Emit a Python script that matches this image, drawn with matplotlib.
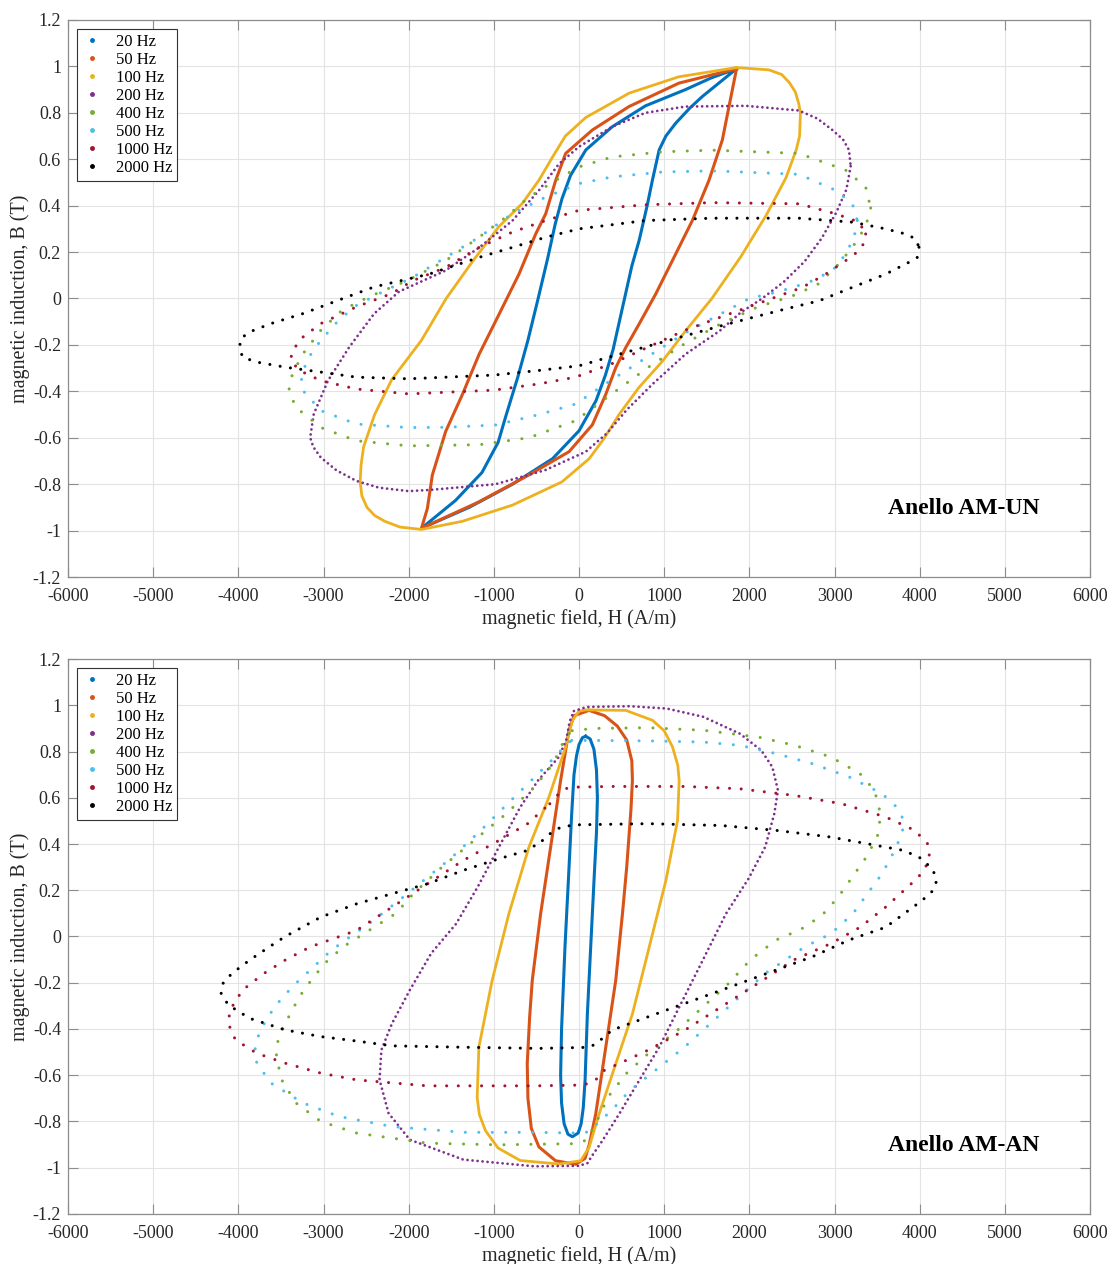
#!/usr/bin/env python
# -*- coding: utf-8 -*-
"""Hysteresis loops B(H) of two ring samples at several frequencies."""

import matplotlib
matplotlib.use('Agg')
import matplotlib.pyplot as plt
import numpy as np
from matplotlib.lines import Line2D
from matplotlib.ticker import FuncFormatter

# ---------------------------------------------------------------------------
# Data (H in A/m, B in T), one closed loop per series.
# ---------------------------------------------------------------------------
freqs = ['20 Hz', '50 Hz', '100 Hz', '200 Hz', '400 Hz', '500 Hz', '1000 Hz', '2000 Hz']

# --- Anello AM-UN ---
h_un_20 = [1850, 1550, 1250, 780, 390, 80, -100, -200, -280, -370, -480, -600, -720, -862, -950, -1140, -1450, -1850,
           -1290, -780, -310, 0, 200, 310, 400, 510, 620, 706, 800, 862, 941, 1020, 1137, 1300, 1447, 1850]
b_un_20 = [0.99, 0.95, 0.90, 0.83, 0.74, 0.64, 0.53, 0.43, 0.32, 0.17, 0.0, -0.18, -0.34, -0.51, -0.62, -0.75, -0.87, -0.99,
           -0.90, -0.80, -0.69, -0.57, -0.44, -0.33, -0.22, -0.04, 0.14, 0.25, 0.40, 0.51, 0.64, 0.70, 0.756, 0.82, 0.87, 0.99]

h_un_50 = [1850, 1174, 587, 157, -157, -274, -391, -509, -705, -939, -1174, -1370, -1566, -1722, -1781, -1850,
           -1174, -587, -117, 157, 313, 430, 548, 704, 900, 1096, 1331, 1526, 1683, 1761, 1850]
b_un_50 = [0.99, 0.928, 0.827, 0.726, 0.625, 0.509, 0.365, 0.278, 0.105, -0.068, -0.241, -0.414, -0.573, -0.76, -0.905, -0.99,
           -0.876, -0.76, -0.66, -0.544, -0.414, -0.299, -0.212, -0.111, 0.019, 0.163, 0.336, 0.509, 0.683, 0.827, 0.99]

h_un_100 = [1850, 2230, 2380, 2470, 2540, 2580, 2600, 2590, 2550, 2430, 2200, 1900, 1560, 1250, 980, 700, 470, 300, 120,
            -200, -780, -1370, -1850, -2100, -2280, -2400, -2490, -2550, -2570, -2560, -2530, -2400, -2200, -1850, -1560,
            -1250, -940, -665, -470, -310, -160, 80, 590, 1170, 1850]
b_un_100 = [0.995, 0.985, 0.965, 0.93, 0.89, 0.84, 0.80, 0.70, 0.64, 0.52, 0.36, 0.18, 0.0, -0.14, -0.27, -0.385, -0.50,
            -0.60, -0.69, -0.79, -0.89, -0.96, -0.995, -0.985, -0.96, -0.935, -0.90, -0.85, -0.79, -0.72, -0.64, -0.50,
            -0.35, -0.18, 0.0, 0.16, 0.31, 0.41, 0.51, 0.61, 0.70, 0.78, 0.885, 0.955, 0.995]

h_un_200 = [3190, 3140, 3020, 2850, 2650, 2400, 2150, 1900, 1650, 1250, 860, 560, 330, 80, -400, -980, -1760, -2000,
            -2350, -2614, -2850, -3032, -3120, -3157, -3115, -2948, -2697, -2405, -2112, -1570, -1170, -780, -470, -235,
            0, 390, 780, 1250, 1960, 2580, 2800, 2975, 3100, 3170, 3190]
b_un_200 = [0.57, 0.47, 0.37, 0.26, 0.16, 0.07, 0.0, -0.06, -0.14, -0.24, -0.37, -0.48, -0.58, -0.66, -0.74, -0.80,
            -0.825, -0.83, -0.815, -0.786, -0.74, -0.685, -0.64, -0.599, -0.498, -0.354, -0.209, -0.065, 0.03, 0.12,
            0.22, 0.336, 0.466, 0.58, 0.654, 0.74, 0.80, 0.827, 0.83, 0.81, 0.775, 0.726, 0.685, 0.64, 0.57]

h_un_400 = [3425, 3366, 3210, 3014, 2800, 2500, 2100, 1670, 1240, 814, 386, -43, -590, -1170, -2000, -2614, -3032, -3324,
            -3408, -3366, -3241, -3032, -2781, -2450, -2000, -1566, -1174, -861, -587, -274, 0, 391, 978, 1566, 2583,
            3131, 3366, 3425]
b_un_400 = [0.39, 0.31, 0.22, 0.134, 0.06, 0.01, -0.036, -0.108, -0.195, -0.296, -0.411, -0.527, -0.60, -0.63, -0.635,
            -0.613, -0.556, -0.469, -0.397, -0.325, -0.238, -0.137, -0.05, 0.01, 0.08, 0.163, 0.264, 0.35, 0.437, 0.509,
            0.567, 0.61, 0.632, 0.639, 0.625, 0.553, 0.48, 0.39]

h_un_500 = [3268, 3230, 3130, 2975, 2700, 2350, 2000, 1670, 1240, 810, 385, -43, -470, -980, -1570, -2000, -2614, -3032,
            -3241, -3262, -3200, -3032, -2823, -2614, -2300, -1957, -1566, -1174, -783, -391, 0, 391, 978, 1566, 2583,
            3014, 3210, 3268]
b_un_500 = [0.336, 0.264, 0.19, 0.12, 0.07, 0.03, 0.0, -0.065, -0.15, -0.25, -0.35, -0.455, -0.50, -0.545, -0.555,
            -0.556, -0.541, -0.483, -0.397, -0.354, -0.267, -0.18, -0.094, -0.03, 0.03, 0.09, 0.177, 0.264, 0.365, 0.437,
            0.495, 0.524, 0.545, 0.55, 0.535, 0.466, 0.408, 0.336]

h_un_1000 = [3366, 3366, 3288, 3131, 2897, 2623, 2100, 1671, 1243, 814, 386, -43, -471, -1000, -2000, -2614, -3032, -3283,
             -3387, -3366, -3241, -3032, -2614, -2196, -1957, -1566, -1174, -783, -391, 0, 783, 1566, 2583, 3014, 3288,
             3366]
b_un_1000 = [0.278, 0.25, 0.206, 0.163, 0.105, 0.048, -0.022, -0.079, -0.137, -0.209, -0.281, -0.339, -0.368, -0.395,
             -0.411, -0.39, -0.354, -0.31, -0.267, -0.224, -0.166, -0.108, -0.036, 0.022, 0.076, 0.134, 0.22, 0.286,
             0.336, 0.38, 0.404, 0.413, 0.408, 0.365, 0.329, 0.278]

h_un_2000 = [3992, 3972, 3874, 3600, 3210, 2819, 2427, 2036, 1645, 1254, 863, 472, 0, -471, -1000, -2000, -2614, -3032,
             -3450, -3784, -3952, -3985, -3973, -3868, -3617, -3241, -2823, -2405, -1761, -1174, -783, -391, 0, 783, 1566,
             2583, 3210, 3600, 3835, 3952, 3992]
b_un_2000 = [0.221, 0.177, 0.156, 0.105, 0.048, -0.01, -0.045, -0.082, -0.12, -0.16, -0.20, -0.24, -0.29, -0.31, -0.33,
             -0.346, -0.339, -0.317, -0.296, -0.274, -0.253, -0.209, -0.173, -0.144, -0.108, -0.065, -0.007, 0.05, 0.105,
             0.177, 0.22, 0.264, 0.30, 0.336, 0.346, 0.346, 0.329, 0.30, 0.278, 0.257, 0.221]

# --- Anello AM-AN ---
h_an_20 = [78, 130, 175, 205, 216, 205, 176, 137, 98, 71, 50, 25, -10, -78, -130, -175, -205, -216, -205, -165, -125, -86,
           -59, -30, 0, 40, 78]
b_an_20 = [0.866, 0.855, 0.81, 0.72, 0.60, 0.45, 0.242, -0.046, -0.335, -0.623, -0.74, -0.81, -0.85, -0.866, -0.855,
           -0.81, -0.72, -0.60, -0.40, -0.046, 0.242, 0.531, 0.70, 0.78, 0.83, 0.86, 0.866]

h_an_50 = [118, 300, 450, 560, 620, 627, 610, 560, 510, 431, 314, 196, 120, 70, -40, -275, -471, -560, -600, -608, -580,
           -549, -451, -333, -216, -118, -59, 118]
b_an_50 = [0.978, 0.955, 0.91, 0.85, 0.76, 0.675, 0.55, 0.30, 0.098, -0.19, -0.479, -0.768, -0.90, -0.96, -0.985, -0.97,
           -0.91, -0.83, -0.70, -0.55, -0.35, -0.19, 0.098, 0.387, 0.675, 0.892, 0.955, 0.978]

h_an_100 = [0, 78, 549, 863, 1000, 1098, 1160, 1176, 1157, 1020, 824, 627, 431, 235, 118, 20, -235, -690, -950, -1098,
            -1170, -1196, -1176, -1020, -824, -706, -588, -431, -353, -157, -78, 0]
b_an_100 = [0.975, 0.98, 0.978, 0.935, 0.89, 0.82, 0.74, 0.675, 0.502, 0.242, -0.046, -0.335, -0.551, -0.768, -0.912,
            -0.97, -0.984, -0.969, -0.915, -0.84, -0.77, -0.696, -0.479, -0.19, 0.098, 0.242, 0.387, 0.531, 0.603, 0.82,
            0.935, 0.975]

h_an_200 = [-60, 90, 600, 1030, 1460, 1890, 2140, 2270, 2336, 2293, 2186, 1990, 1725, 1451, 1176, 941, 706, 471, 275, 150,
            100, 0, -524, -1360, -1987, -2237, -2342, -2321, -2196, -1987, -1736, -1443, -1192, -942, -691, -481, -240,
            -150, -110, -60]
b_an_200 = [0.975, 0.993, 0.996, 0.986, 0.95, 0.877, 0.805, 0.733, 0.632, 0.531, 0.387, 0.25, 0.098, -0.104, -0.306,
            -0.479, -0.623, -0.768, -0.883, -0.95, -0.98, -0.992, -0.994, -0.965, -0.879, -0.764, -0.62, -0.491, -0.376,
            -0.232, -0.073, 0.055, 0.213, 0.386, 0.559, 0.675, 0.775, 0.85, 0.93, 0.975]

h_an_400 = [-80, 170, 810, 1460, 2100, 2530, 2960, 3300, 3470, 3540, 3515, 3386, 3215, 3043, 2850, 2600, 2315, 2014, 1757,
            1457, 1157, 814, 557, 343, 214, 86, -43, -942, -1778, -2614, -3032, -3324, -3492, -3555, -3534, -3450, -3283,
            -3115, -2948, -2750, -2450, -2150, -1945, -1610, -1234, -858, -523, -300, -157, -80]
b_an_400 = [0.89, 0.90, 0.903, 0.892, 0.863, 0.827, 0.776, 0.704, 0.632, 0.531, 0.444, 0.35, 0.26, 0.17, 0.09, 0.03,
            -0.015, -0.10, -0.203, -0.304, -0.405, -0.506, -0.592, -0.693, -0.795, -0.881, -0.896, -0.901, -0.894, -0.85,
            -0.80, -0.72, -0.62, -0.519, -0.447, -0.376, -0.26, -0.174, -0.102, -0.04, 0.03, 0.10, 0.185, 0.30, 0.415,
            0.53, 0.646, 0.75, 0.863, 0.89]

h_an_500 = [-86, 171, 814, 1457, 1886, 2315, 2743, 3172, 3558, 3729, 3815, 3793, 3686, 3558, 3386, 3215, 2957, 2650, 2186,
            1886, 1586, 1243, 900, 600, 386, 214, 129, -43, -524, -1360, -2196, -2823, -3241, -3617, -3784, -3805, -3742,
            -3575, -3366, -3157, -2948, -2800, -2450, -2100, -1800, -1500, -1150, -850, -560, -300, -150, -86]
b_an_500 = [0.848, 0.848, 0.846, 0.841, 0.827, 0.791, 0.747, 0.69, 0.618, 0.56, 0.502, 0.444, 0.358, 0.271, 0.185, 0.098,
            0.012, -0.045, -0.16, -0.26, -0.362, -0.477, -0.578, -0.665, -0.751, -0.809, -0.845, -0.85, -0.847, -0.847,
            -0.822, -0.778, -0.72, -0.634, -0.548, -0.476, -0.404, -0.304, -0.217, -0.145, -0.073, -0.03, 0.06, 0.16,
            0.25, 0.34, 0.46, 0.57, 0.675, 0.77, 0.83, 0.848]

h_an_1000 = [-343, -236, -171, -43, 386, 1243, 1886, 2529, 3086, 3600, 3943, 4093, 4115, 4093, 3986, 3815, 3600, 3300,
             2960, 2529, 2100, 1671, 1243, 814, 557, 300, 214, 129, -43, -524, -1778, -2614, -3032, -3450, -3784, -4035,
             -4119, -4098, -3952, -3701, -3450, -3157, -2614, -2196, -1778, -1360, -942, -607, -343]
b_an_1000 = [0.574, 0.618, 0.639, 0.646, 0.649, 0.649, 0.639, 0.61, 0.574, 0.517, 0.459, 0.401, 0.358, 0.315, 0.257,
             0.199, 0.127, 0.04, -0.03, -0.10, -0.203, -0.304, -0.405, -0.491, -0.535, -0.578, -0.614, -0.636, -0.643,
             -0.646, -0.646, -0.62, -0.591, -0.548, -0.505, -0.447, -0.376, -0.318, -0.232, -0.16, -0.102, -0.045, 0.026,
             0.127, 0.228, 0.329, 0.415, 0.487, 0.574]

h_an_2000 = [-430, -343, -214, -43, 814, 1671, 2315, 2957, 3386, 3815, 4029, 4158, 4200, 4158, 4029, 3815, 3600, 3172,
             2743, 2315, 1886, 1457, 1029, 600, 386, 300, 171, 43, -471, -1360, -2196, -2614, -3032, -3450, -3868, -4119,
             -4202, -4181, -4077, -3868, -3617, -3450, -3032, -2614, -2196, -1778, -1360, -942, -607, -430]
b_an_2000 = [0.415, 0.444, 0.473, 0.483, 0.488, 0.48, 0.459, 0.43, 0.401, 0.372, 0.336, 0.286, 0.242, 0.199, 0.156, 0.098,
             0.04, -0.015, -0.087, -0.145, -0.203, -0.261, -0.318, -0.376, -0.405, -0.434, -0.47, -0.48, -0.484, -0.479,
             -0.473, -0.452, -0.433, -0.404, -0.354, -0.296, -0.246, -0.203, -0.16, -0.102, -0.04, 0.0, 0.084, 0.141,
             0.185, 0.228, 0.286, 0.336, 0.372, 0.415]

loops_un = [(h_un_20, b_un_20), (h_un_50, b_un_50), (h_un_100, b_un_100), (h_un_200, b_un_200),
            (h_un_400, b_un_400), (h_un_500, b_un_500), (h_un_1000, b_un_1000), (h_un_2000, b_un_2000)]
loops_an = [(h_an_20, b_an_20), (h_an_50, b_an_50), (h_an_100, b_an_100), (h_an_200, b_an_200),
            (h_an_400, b_an_400), (h_an_500, b_an_500), (h_an_1000, b_an_1000), (h_an_2000, b_an_2000)]

# MATLAB default colour order, last series black.
colors = ['#0072BD', '#D95319', '#EDB120', '#7E2F8E', '#77AC30', '#4DBEEE', '#A2142F', '#000000']
# (linewidth, dot gap in linewidths or None for a continuous trace)
styles = [(2.2, None), (2.2, None), (2.0, None), (2.0, 1.8), (2.2, 4.4), (2.2, 4.4), (2.2, 3.8), (2.2, 3.4)]

AXIS_GRAY = '#8c8c8c'
TEXT_GRAY = '#262626'

plt.rcParams['font.family'] = ['Liberation Serif', 'DejaVu Serif']


def fmt_tick(v, pos):
  """MATLAB-like tick label: no trailing zeros, no negative zero."""
  return '%g' % (round(v, 1) + 0.0)


def draw_panel(ax, loops, tag):
  """Draws one set of hysteresis loops on `ax`."""

  for (hs, bs), color, (lw, gap) in zip(loops, colors, styles):
    if gap is None:
      ax.plot(hs, bs, color=color, lw=lw, solid_joinstyle='round', zorder=3)
    else:
      ax.plot(hs, bs, color=color, lw=lw, linestyle=(0, (0.01, gap)),
              dash_capstyle='round', zorder=3)

  # Axes cosmetics, MATLAB-like.
  ax.set_xlim(-6000, 6000)
  ax.set_ylim(-1.2, 1.2)
  ax.set_xticks(np.arange(-6000, 6001, 1000))
  ax.set_yticks(np.round(np.arange(-1.2, 1.21, 0.2), 1))
  ax.xaxis.set_major_formatter(FuncFormatter(fmt_tick))
  ax.yaxis.set_major_formatter(FuncFormatter(fmt_tick))
  ax.tick_params(direction='in', length=7, width=0.8, top=True, right=True,
                 color=AXIS_GRAY, labelcolor=TEXT_GRAY, labelsize=13)
  ax.tick_params(axis='x', pad=8)
  ax.tick_params(axis='y', pad=5)
  for spine in ax.spines.values():
    spine.set_color(AXIS_GRAY)
    spine.set_linewidth(0.9)
  ax.grid(True, color='#e3e3e3', lw=0.8, zorder=0)
  ax.set_axisbelow(True)
  ax.set_xlabel('magnetic field, H (A/m)', fontsize=14.5, color=TEXT_GRAY, labelpad=3)
  ax.set_ylabel('magnetic induction, B (T)', fontsize=14.5, color=TEXT_GRAY, labelpad=2)

  ax.text(4520, -0.905, tag, fontsize=17, fontweight='bold', ha='center', va='center', zorder=5)

  handles = [Line2D([], [], ls='none', marker='.', ms=5, color=c) for c in colors]
  leg = ax.legend(handles, freqs, loc='upper left', bbox_to_anchor=(0.009, 0.984),
                  fontsize=12, frameon=True, fancybox=False, framealpha=1,
                  edgecolor='#333333', handlelength=1.2, handletextpad=0.8,
                  labelspacing=0.12, borderpad=0.3, borderaxespad=0.0)
  leg.get_frame().set_linewidth(0.8)


def main():
  fig = plt.figure(figsize=(11.12, 12.64), dpi=100)
  ax_top = fig.add_axes([0.0612, 0.5435, 0.9190, 0.4407])
  ax_bot = fig.add_axes([0.0612, 0.0396, 0.9190, 0.4390])
  draw_panel(ax_top, loops_un, 'Anello AM-UN')
  draw_panel(ax_bot, loops_an, 'Anello AM-AN')
  fig.savefig('out.png', dpi=100, facecolor='white')
  plt.close(fig)


if __name__ == '__main__':
  main()
